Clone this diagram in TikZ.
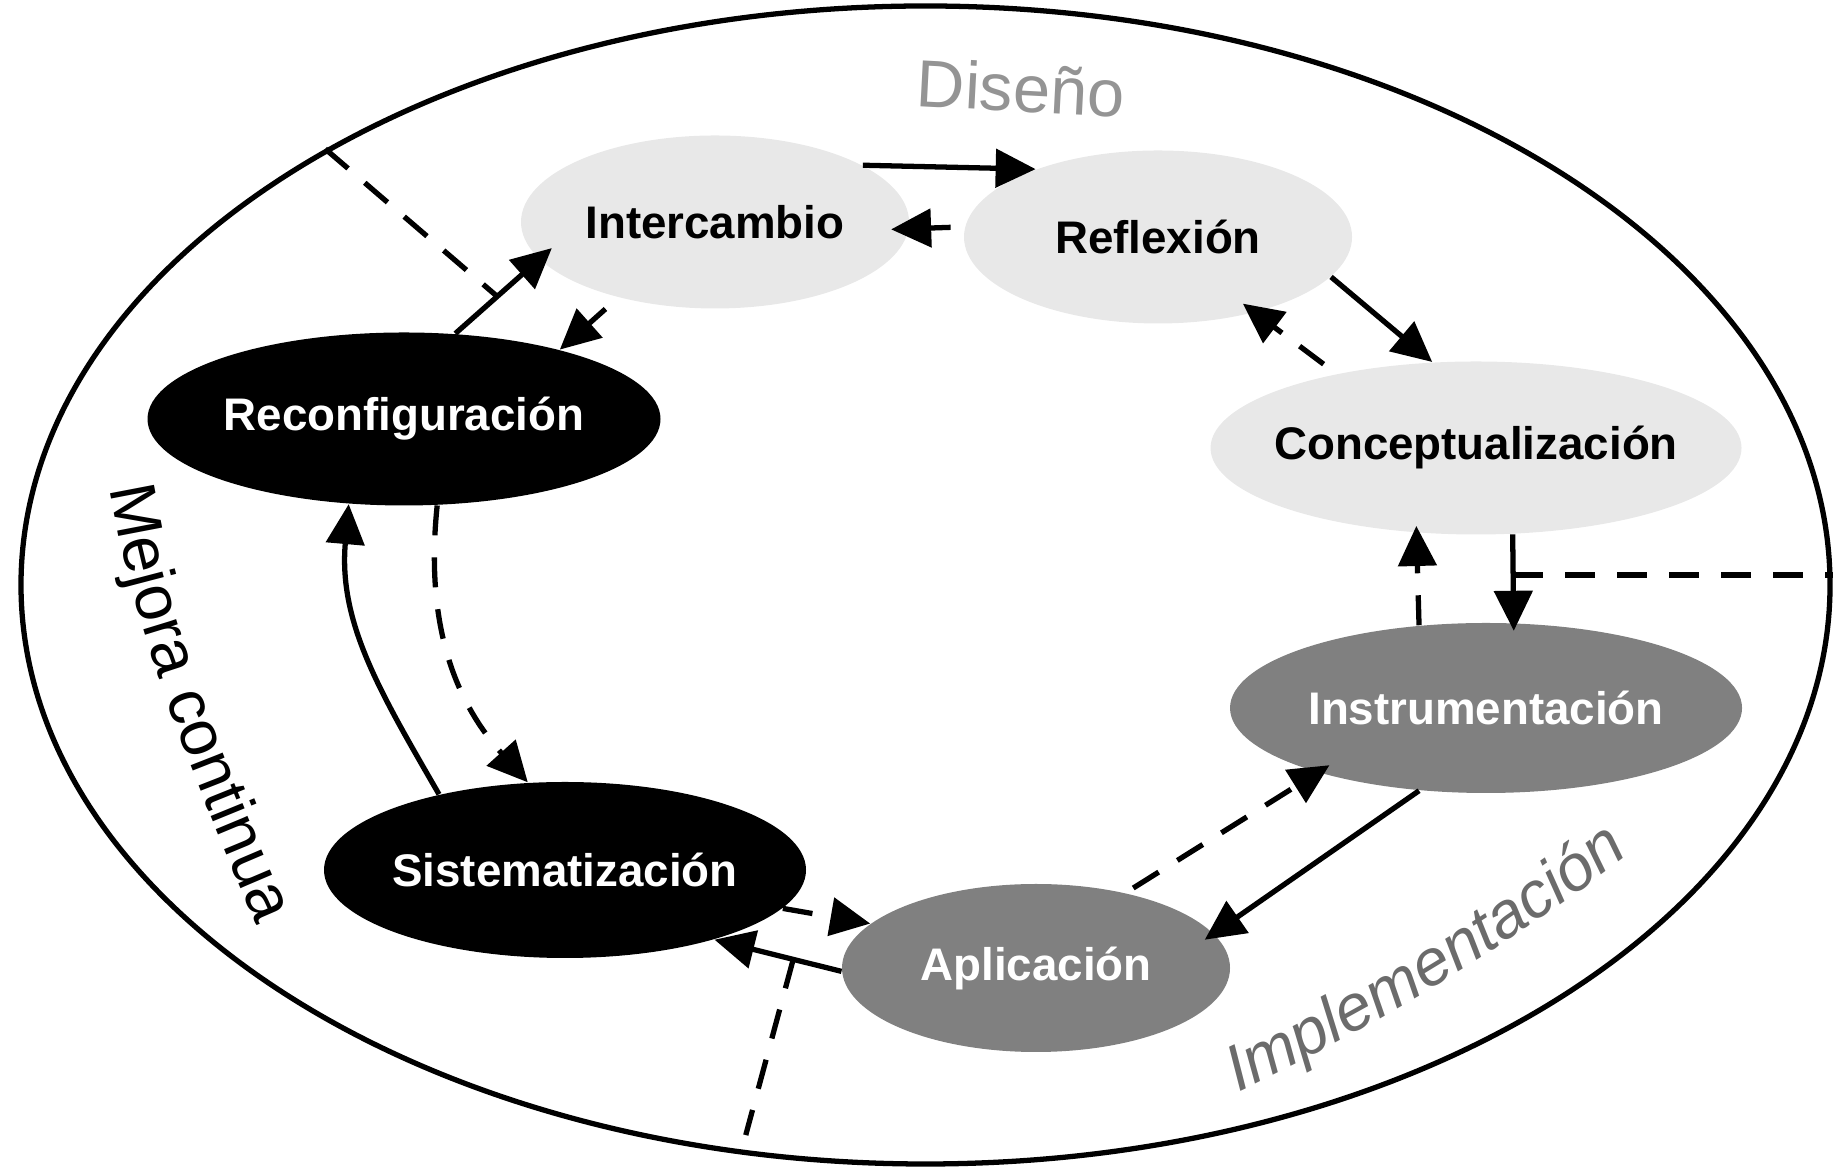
\documentclass[tikz,border=0pt]{standalone}
\usepackage{fontspec}
\setmainfont{Liberation Sans}
\usetikzlibrary{arrows.meta,shapes.geometric,decorations.text}

\definecolor{claro}{gray}{0.91}
\definecolor{medio}{gray}{0.5}
\definecolor{rotulo}{gray}{0.42}
\definecolor{rotuloclaro}{gray}{0.58}

\tikzset{
  etapa/.style={ellipse, inner xsep=-5mm, inner ysep=0pt, minimum height=1.73cm,
    font=\fontsize{13}{15}\selectfont\bfseries},
  flecha/.style={line width=1.5pt, -{Triangle[length=4mm,width=3.8mm]}},
  guion/.style={line width=1.5pt, dash pattern=on 3mm off 2.2mm},
}

\begin{document}
\begin{tikzpicture}
    \useasboundingbox (0,0) rectangle (18.43,11.70);
    \node[draw, ellipse, line width=1.5pt, minimum width=18.09cm, minimum height=11.58cm] (ciclo) at (9.255,5.85) {};

    % Diseno
    \node[etapa, fill=claro, minimum width=3.88cm] (Intercambio) at (7.15,9.48) {Intercambio};
    \node[etapa, fill=claro, minimum width=3.88cm] (Reflexion) at (11.58,9.33) {Reflexión};
    \node[etapa, fill=claro, minimum width=5.31cm] (Conceptualizacion) at (14.76,7.22) {Conceptualización};

    % Implementacion
    \node[etapa, fill=medio, text=white, minimum width=5.12cm, minimum height=1.70cm] (Instrumentacion) at (14.86,4.62) {Instrumentación};
    \node[etapa, fill=medio, text=white, minimum width=3.88cm, minimum height=1.68cm] (Aplicacion) at (10.36,2.02) {Aplicación};

    % Mejora continua
    \node[etapa, fill=black, text=white, minimum width=4.82cm, minimum height=1.76cm] (Sistematizacion) at (5.65,3.00) {Sistematización};
    \node[etapa, fill=black, text=white, minimum width=5.13cm] (Reconfiguracion) at (4.04,7.51) {Reconfiguración};

    % Flechas del ciclo
    \draw[flecha] (Intercambio.21) -- (Reflexion.151);
    \draw[flecha, shorten <=1.4mm, shorten >=-1.8mm] (Reflexion.177) -- (Intercambio.-2);
    \draw[flecha] (Reflexion.-13) -- (Conceptualizacion.117);
    \draw[flecha, guion, shorten <=1.6mm, shorten >=-1.5mm] (Conceptualizacion.152) -- (Reflexion.-38);
    \draw[flecha, shorten >=-0.8mm] (Conceptualizacion.-67) -- coordinate[pos=0.46] (corte1) (Instrumentacion.72);
    \draw[flecha, guion, shorten >=-0.7mm] (Instrumentacion.129) -- (Conceptualizacion.-125);
    \draw[flecha, shorten >=-1.1mm] (Instrumentacion.-129) -- (Aplicacion.11);
    \draw[flecha, guion, shorten <=0.9mm, shorten >=-1.4mm] (Aplicacion.40) -- (Instrumentacion.-159);
    \draw[flecha, guion] (Sistematizacion.-10) -- (Aplicacion.165);
    \draw[flecha] (Aplicacion.181) -- coordinate[pos=0.38] (corte2) (Sistematizacion.-25);
    \draw[flecha] (Sistematizacion.149) to[out=120, in=-95] (Reconfiguracion.-123);
    \draw[flecha, guion] (Reconfiguracion.-69) to[out=-96, in=132] (Sistematizacion.113);
    \draw[flecha, shorten >=-1.7mm] (Reconfiguracion.59) -- coordinate[pos=0.5] (corte3) (Intercambio.192);
    \draw[flecha, guion, shorten <=1.7mm] (Intercambio.-142) -- (Reconfiguracion.24);

    % Limites entre fases
    \draw[guion] (corte1) -- (corte1 -| ciclo.east);
    \draw[guion, shorten >=2mm] (corte2) -- (ciclo.-108);
    \draw[guion] (ciclo.144) -- (corte3);

    % Nombres de las fases
    \node[rotate=-3, text=rotuloclaro, font=\fontsize{19}{19}\selectfont] (Diseno) at (10.21,10.82) {Diseño};
    \path[decorate, decoration={text along path, text align=left,
        text={|\fontsize{18.5}{18.5}\selectfont|Mejora continua}}]
        (1.10,6.82) .. controls (1.30,5.60) and (1.75,4.30) .. (2.68,2.20);
    \path[decorate, decoration={text along path, text align=left, text color=rotulo,
        text={|\fontsize{18.5}{18.5}\selectfont\itshape|Implementación}}]
        (12.38,0.78) .. controls (13.60,1.35) and (15.10,2.22) .. (16.45,3.28);
\end{tikzpicture}
\end{document}
